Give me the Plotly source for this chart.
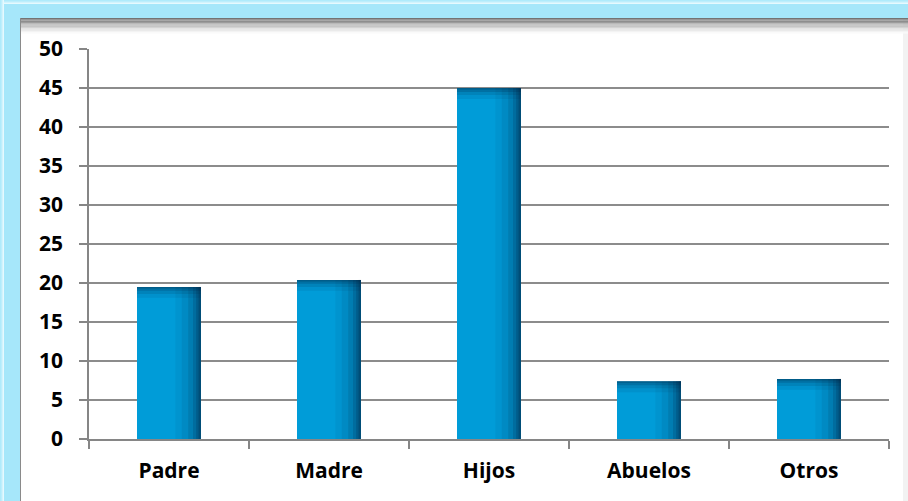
import plotly.graph_objects as go

categories = ["Padre", "Madre", "Hijos", "Abuelos", "Otros"]
values = [19.5, 20.4, 45.0, 7.4, 7.7]
y_ticks = [0, 5, 10, 15, 20, 25, 30, 35, 40, 45, 50]

W, H = 908, 501
ML, MR, MT, MB = 89, 19, 49, 62
PW, PH = W - ML - MR, H - MT - MB

def px(X):
    return (X - ML) / PW

def py(Y):
    return (H - MB - Y) / PH

BAR_W = 0.4
fig = go.Figure()

# main bars
fig.add_trace(go.Bar(x=categories, y=values, width=BAR_W, offset=-BAR_W / 2,
                     marker=dict(color="#009CD8", line=dict(width=0)),
                     hoverinfo="x+y", showlegend=False))

# right-edge shading (gradient effect)
for w, a in [(0.16, 0.06), (0.12, 0.08), (0.08, 0.12), (0.05, 0.16), (0.03, 0.2), (0.015, 0.25)]:
    fig.add_trace(go.Bar(x=categories, y=values, width=w, offset=BAR_W / 2 - w,
                         marker=dict(color=f"rgba(0,30,60,{a})", line=dict(width=0)),
                         hoverinfo="skip", showlegend=False))

# top-edge shading
for h, a in [(1.4, 0.08), (0.9, 0.12), (0.5, 0.18), (0.2, 0.25)]:
    fig.add_trace(go.Bar(x=categories, y=[h] * len(values), base=[v - h for v in values],
                         width=BAR_W, offset=-BAR_W / 2,
                         marker=dict(color=f"rgba(0,30,60,{a})", line=dict(width=0)),
                         hoverinfo="skip", showlegend=False))

shapes = []
# cyan glow background
shapes.append(dict(type="rect", xref="paper", yref="paper", x0=px(0), x1=px(W), y0=py(H), y1=py(0),
                   fillcolor="#A6E7FA", line=dict(width=0), layer="below"))
glow = ["#E6F9FE", "#D2F4FD", "#BEEEFC", "#B0EBFB"]
for i, c in enumerate(glow):
    shapes.append(dict(type="rect", xref="paper", yref="paper", x0=px(0), x1=px(W),
                       y0=py(4 - i), y1=py(0), fillcolor=c, line=dict(width=0), layer="below"))
for i, c in enumerate(glow):
    shapes.append(dict(type="rect", xref="paper", yref="paper", x0=px(0), x1=px(4 - i),
                       y0=py(H), y1=py(0), fillcolor=c, line=dict(width=0), layer="below"))
# white panel
shapes.append(dict(type="rect", xref="paper", yref="paper", x0=px(20), x1=px(W), y0=py(H), y1=py(18),
                   fillcolor="#F2F2F2", line=dict(width=0), layer="below"))
shapes.append(dict(type="rect", xref="paper", yref="paper", x0=px(21), x1=px(903), y0=py(H), y1=py(18),
                   fillcolor="#FFFFFF", line=dict(width=0), layer="below"))
# top shadow gradient
greys = ["#747474", "#818181", "#8E8E8E", "#9C9C9C", "#AAAAAA", "#B8B8B8", "#C6C6C6",
         "#D3D3D3", "#DFDFDF", "#EAEAEA", "#F3F3F3", "#FAFAFA"]
for i, c in enumerate(greys):
    shapes.append(dict(type="rect", xref="paper", yref="paper", x0=px(20), x1=px(W),
                       y0=py(18 + 1.3 * (i + 1)), y1=py(18 + 1.3 * i), fillcolor=c,
                       line=dict(width=0), layer="below"))
# left panel edge
shapes.append(dict(type="line", xref="paper", yref="paper", x0=px(20.5), x1=px(20.5), y0=py(H), y1=py(18),
                   line=dict(color="#8A8A8A", width=1), layer="below"))

font = dict(family="Open Sans", size=21, color="#000000", weight="bold")

fig.update_layout(
    width=W, height=H,
    margin=dict(l=ML, r=MR, t=MT, b=MB, pad=0),
    paper_bgcolor="#FFFFFF", plot_bgcolor="rgba(0,0,0,0)",
    barmode="overlay",
    shapes=shapes,
    showlegend=False,
    xaxis=dict(type="category", showgrid=False, showline=True, linecolor="#868686", linewidth=1.5,
               ticks="outside", tickson="boundaries", ticklen=8, tickcolor="#868686", tickwidth=1.5,
               tickfont=font, ticklabelstandoff=12, zeroline=False, fixedrange=True),
    yaxis=dict(range=[0, 50], tickvals=y_ticks, ticktext=[str(t) for t in y_ticks],
               showgrid=True, gridcolor="#8C8C8C", gridwidth=1.5,
               showline=True, linecolor="#868686", linewidth=1.5,
               ticks="outside", ticklen=8, tickcolor="#868686", tickwidth=1.5,
               tickfont=font, ticklabelstandoff=12, zeroline=False, fixedrange=True),
)

fig.write_html("out.html", config={"displayModeBar": False},
               post_script="document.body.style.margin='0';document.body.style.overflow='hidden';")
